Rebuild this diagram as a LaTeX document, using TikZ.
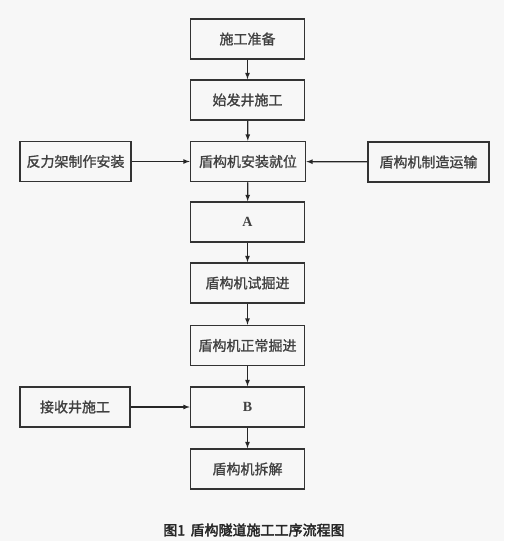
\documentclass[tikz,border=0pt]{standalone}
\usepackage{fontspec}
\setmainfont{Liberation Serif}
\newfontfamily\cjk{Noto Sans CJK SC}[AutoFakeBold=1.2]
\newfontfamily\capfont{Noto Sans CJK SC}[AutoFakeBold=2.5]
\usepackage{tikz}
\usetikzlibrary{arrows}

\begin{document}
\begin{tikzpicture}[x=1pt,y=-1pt,>=latex,
    stepbox/.style={draw=black!80,line width=1.5pt,minimum width=114pt,minimum height=40pt,
      inner sep=0pt,text=black!75,font=\cjk\bfseries\fontsize{14}{16}\selectfont},
    link/.style={->,draw=black!85,line width=1.2pt}]
    \useasboundingbox[fill=black!3] (0,0) rectangle (504,541);

    % main column
    \node[stepbox] (prep) at (247.5,39) {施工准备};
    \node[stepbox] (shaft) at (247.5,100) {始发井施工};
    \node[stepbox,minimum width=115pt] (install) at (248,161.5) {盾构机安装就位};
    \node[stepbox,font=\bfseries\fontsize{14}{16}\selectfont] (a) at (247.5,222) {A};
    \node[stepbox] (trial) at (247.5,283) {盾构机试掘进};
    \node[stepbox] (normal) at (247.5,345.5) {盾构机正常掘进};
    \node[stepbox,font=\bfseries\fontsize{14}{16}\selectfont] (b) at (247.5,407) {B};
    \node[stepbox] (dismantle) at (247.5,469) {盾构机拆解};

    % side boxes
    \node[stepbox,minimum width=111pt] (frame) at (75.5,161.5) {反力架制作安装};
    \node[stepbox,minimum width=121pt] (make) at (428.5,162) {盾构机制造运输};
    \node[stepbox,minimum width=110pt] (recv) at (75,407) {接收井施工};

    \draw[link] (prep) -- (shaft);
    \draw[link] (shaft) -- (install);
    \draw[link] (install) -- (a);
    \draw[link] (a) -- (trial);
    \draw[link] (trial) -- (normal);
    \draw[link] (normal) -- (b);
    \draw[link] (b) -- (dismantle);
    \draw[link] (frame) -- (install);
    \draw[link] (make) -- (install);
    \draw[link] (recv) -- (b);

    %caption
    \node[text=black!85,font=\capfont\bfseries\fontsize{14}{16}\selectfont] (cap) at (254,530) {图1\, 盾构隧道施工工序流程图};
\end{tikzpicture}
\end{document}
